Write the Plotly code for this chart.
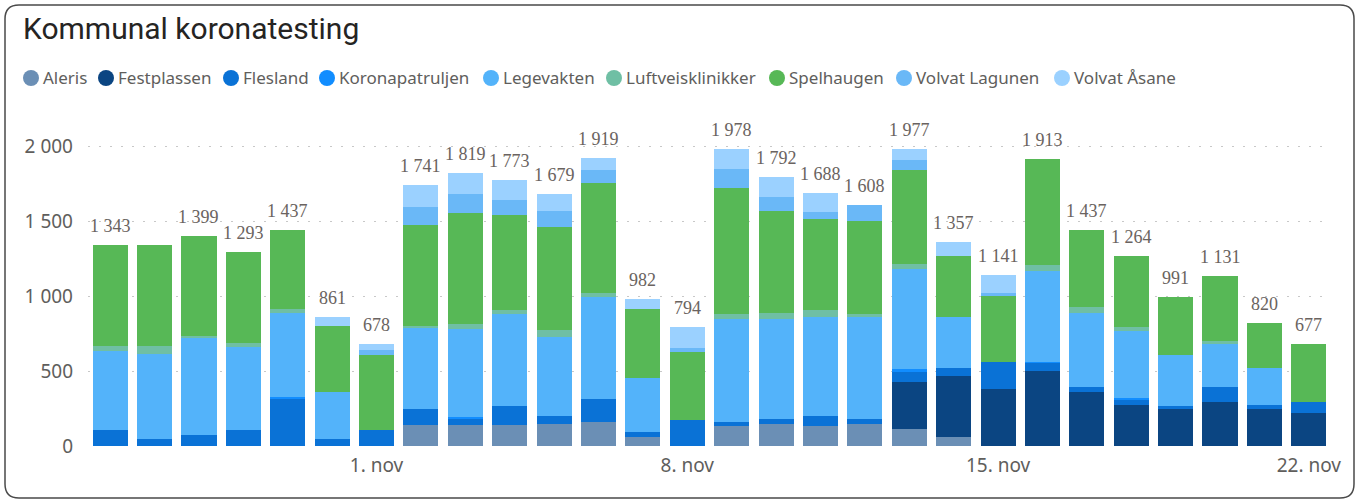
import plotly.graph_objects as go

dates = ["2020-10-26", "2020-10-27", "2020-10-28", "2020-10-29", "2020-10-30", "2020-10-31",
         "2020-11-01", "2020-11-02", "2020-11-03", "2020-11-04", "2020-11-05", "2020-11-06",
         "2020-11-07", "2020-11-08", "2020-11-09", "2020-11-10", "2020-11-11", "2020-11-12",
         "2020-11-13", "2020-11-14", "2020-11-15", "2020-11-16", "2020-11-17", "2020-11-18",
         "2020-11-19", "2020-11-20", "2020-11-21", "2020-11-22"]

aleris = [0, 0, 0, 0, 0, 0, 0, 142, 142, 142, 149, 160, 58, 0, 133, 144, 133, 144, 113, 58,
          0, 0, 0, 0, 0, 0, 0, 0]
festplassen = [0] * 18 + [311, 406, 378, 502, 360, 276, 247, 293, 247, 218]
flesland = [105, 49, 76, 105, 313, 49, 107, 102, 40, 125, 51, 153, 38, 173, 29, 38, 67, 36,
            67, 56, 182, 54, 36, 31, 17, 103, 26, 75]
koronapatruljen = [0, 0, 0, 0, 16, 0, 0, 0, 9, 0, 0, 0, 0, 0, 0, 0, 0, 0, 20, 0, 0, 6, 0, 15,
                   0, 0, 0, 0]
legevakten = [528, 564, 642, 555, 558, 309, 0, 540, 591, 611, 527, 678, 360, 0, 687, 667, 660,
              680, 669, 340, 0, 607, 493, 445, 345, 286, 245, 0]
luftveisklinikker = [36, 56, 15, 27, 28, 0, 0, 18, 29, 26, 46, 29, 0, 0, 29, 38, 44, 18, 33, 0,
                     0, 38, 35, 26, 0, 16, 0, 0]
spelhaugen = [674, 672, 666, 606, 522, 444, 500, 669, 745, 634, 689, 736, 460, 451, 840, 680,
              609, 622, 627, 407, 442, 706, 513, 471, 382, 433, 302, 384]
volvat_lagunen = [0, 0, 0, 0, 0, 0, 35, 125, 124, 104, 107, 84, 0, 27, 131, 95, 45, 108, 67, 0,
                  18, 0, 0, 0, 0, 0, 0, 0]
volvat_asane = [0, 0, 0, 0, 0, 59, 36, 145, 139, 131, 110, 79, 66, 143, 129, 130, 130, 0, 70,
                90, 121, 0, 0, 0, 0, 0, 0, 0]

series_names = ["Aleris", "Festplassen", "Flesland", "Koronapatruljen", "Legevakten",
                "Luftveisklinikker", "Spelhaugen", "Volvat Lagunen", "Volvat Åsane"]
series_values = [aleris, festplassen, flesland, koronapatruljen, legevakten,
                 luftveisklinikker, spelhaugen, volvat_lagunen, volvat_asane]
colors = ["#6B8FB5", "#0B4582", "#0A72D6", "#118DFF", "#53B3FA", "#6FBFA4", "#57B856",
          "#6AB8F7", "#9BD1FF"]

tick_dates = ["2020-11-01", "2020-11-08", "2020-11-15", "2020-11-22"]
tick_labels = ["1. nov", "8. nov", "15. nov", "22. nov"]
y_ticks = [0, 500, 1000, 1500, 2000]
y_tick_labels = ["0", "500", "1 000", "1 500", "2 000"]
hidden_labels = ["2020-10-27"]

# layout geometry (pixels)
W, H = 1359, 502
PL, PR, PT, PB = 88, 1331, 116, 446
YMAX = 2200


def pxx(x):
    return (x - PL) / (PR - PL)


def pxy(y):
    return (PB - y) / (PB - PT)


fig = go.Figure()
for name, vals, col in zip(series_names, series_values, colors):
    fig.add_trace(go.Bar(x=dates, y=vals, name=name, marker=dict(color=col, line=dict(width=0)),
                         showlegend=False))

totals = [sum(v[i] for v in series_values) for i in range(len(dates))]


def fmt(n):
    return f"{n:,}".replace(",", " ")


annotations = []
for d, t in zip(dates, totals):
    if d in hidden_labels:
        continue
    annotations.append(dict(x=d, y=t, xref="x", yref="y", text=fmt(t), showarrow=False,
                            yanchor="bottom", yshift=7,
                            font=dict(family="Liberation Serif", size=18, color="#6a6360")))

# title
annotations.append(dict(x=pxx(21), y=pxy(29), xref="paper", yref="paper", xanchor="left",
                        yanchor="middle", text="Kommunal koronatesting", showarrow=False,
                        font=dict(family="Roboto", size=30, color="#252423")))

# legend (custom, circles)
legend_cx = [31, 106, 231, 327, 491, 614, 777, 904, 1062]
shapes = []
for name, col, cx in zip(series_names, colors, legend_cx):
    shapes.append(dict(type="circle", xref="paper", yref="paper", xsizemode="pixel",
                       ysizemode="pixel", xanchor=pxx(cx), yanchor=pxy(78), x0=-8, x1=8,
                       y0=-8, y1=8, fillcolor=col, line=dict(width=0)))
    annotations.append(dict(x=pxx(cx + 10), y=pxy(78), xref="paper", yref="paper",
                            xanchor="left", yanchor="middle", text=name, showarrow=False,
                            font=dict(family="Noto Sans", size=17, color="#605E5C")))

# card border (rounded rectangle)
L, R, T, B, r = 5, 1354, 5, 498, 14
path = (f"M {pxx(L + r)} {pxy(T)} L {pxx(R - r)} {pxy(T)} Q {pxx(R)} {pxy(T)} {pxx(R)} {pxy(T + r)} "
        f"L {pxx(R)} {pxy(B - r)} Q {pxx(R)} {pxy(B)} {pxx(R - r)} {pxy(B)} "
        f"L {pxx(L + r)} {pxy(B)} Q {pxx(L)} {pxy(B)} {pxx(L)} {pxy(B - r)} "
        f"L {pxx(L)} {pxy(T + r)} Q {pxx(L)} {pxy(T)} {pxx(L + r)} {pxy(T)} Z")
shapes.append(dict(type="path", xref="paper", yref="paper", path=path,
                   line=dict(color="#4a4a4a", width=1.5), fillcolor="rgba(0,0,0,0)"))

fig.update_layout(
    width=W, height=H,
    margin=dict(l=PL, r=W - PR, t=PT, b=H - PB, pad=0),
    barmode="stack", bargap=0.21,
    paper_bgcolor="white", plot_bgcolor="white",
    annotations=annotations, shapes=shapes,
    showlegend=False,
    xaxis=dict(type="date", range=["2020-10-25 12:00", "2020-11-22 12:00"],
               tickvals=tick_dates, ticktext=tick_labels, showgrid=False, zeroline=False,
               showline=False, ticks="", ticklabelstandoff=6,
               tickfont=dict(family="Noto Sans", size=19, color="#605E5C")),
    yaxis=dict(range=[0, YMAX], tickvals=y_ticks, ticktext=y_tick_labels, showgrid=True,
               gridcolor="#c8c8c8", griddash="2px,9px", gridwidth=1, zeroline=False,
               showline=False, ticks="", ticklabelstandoff=14,
               tickfont=dict(family="Noto Sans", size=19, color="#605E5C")),
)

fig.write_html("out.html", config={"displayModeBar": False},
               post_script="document.body.style.margin='0';document.body.style.overflow='hidden';")
